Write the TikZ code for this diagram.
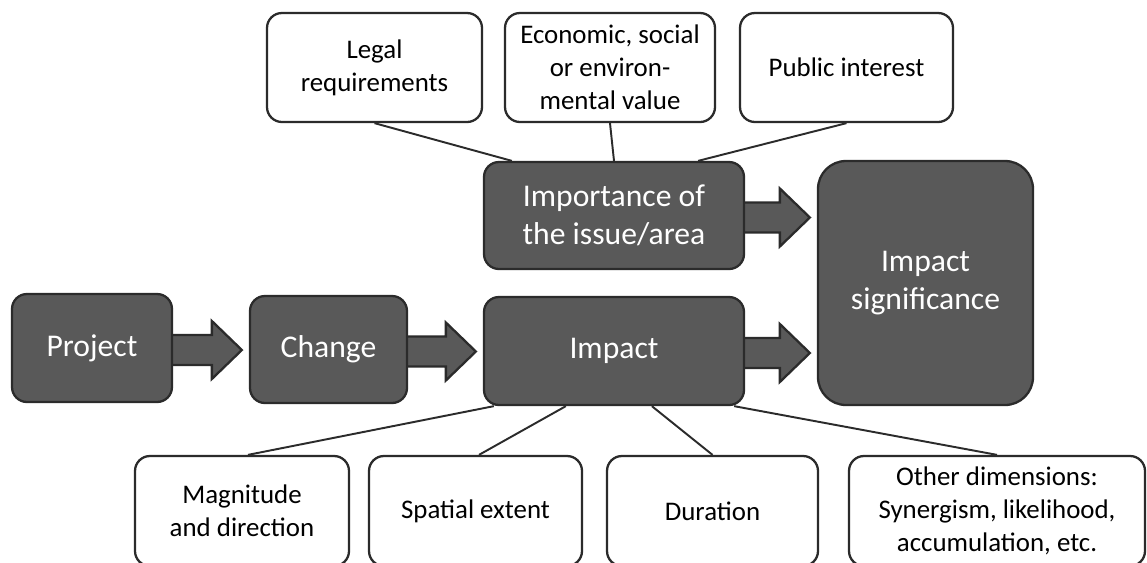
\documentclass[tikz,border=0pt]{standalone}
\usepackage{fontspec}
\setmainfont{Carlito}
\usetikzlibrary{calc,backgrounds}
\definecolor{boxfill}{HTML}{595959}
\definecolor{edge}{HTML}{2B2B2B}
% block arrow from the east side of #1 to the west side of #2
\newcommand\fatarrow[2]{%
  \draw[bigarrow] let \p1=(#1.east), \p2=(#2.west) in
    (\x1-0.1cm,\y1-0.04cm+0.3cm) -- (\x2-0.74cm,\y1-0.04cm+0.3cm)
    -- (\x2-0.74cm,\y1-0.04cm+0.58cm) -- (\x2-0.14cm,\y1-0.04cm)
    -- (\x2-0.74cm,\y1-0.04cm-0.58cm) -- (\x2-0.74cm,\y1-0.04cm-0.3cm)
    -- (\x1-0.1cm,\y1-0.04cm-0.3cm) -- cycle;}
\begin{document}
\begin{tikzpicture}[x=0.02cm,y=-0.02cm,
  base/.style={draw=edge, line width=1.3pt, rounded corners=0.3cm,
    align=center, inner sep=0pt},
  sz/.style 2 args={minimum width=#1*0.02cm, minimum height=#2*0.02cm},
  darkbox/.style={base, fill=boxfill, text=white,
    font=\fontsize{18}{21.5}\selectfont},
  lightbox/.style={base, fill=white, text=black,
    font=\fontsize{15.3}{18.8}\selectfont},
  link/.style={draw=edge, line width=1.1pt},
  bigarrow/.style={fill=boxfill, draw=edge, line width=1.3pt, line join=miter}]
\useasboundingbox (0,0) rectangle (1147,562);
\clip (0,0) rectangle (1147,562);

% top row: what makes an issue important
\node[lightbox, sz={215}{109}] (legal) at (374.5,67.5) {Legal\\requirements};
\node[lightbox, sz={210}{109}] (econ) at (610,67.5) {Economic, social\\or environ-\\mental value};
\node[lightbox, sz={213}{109}] (public) at (846.5,67.5) {Public interest};

% main chain
\node[darkbox, sz={260}{107}] (import) at (614,215.5) {Importance of\\the issue/area};
\node[darkbox, sz={215}{244}, rounded corners=0.56cm] (signif) at (925.5,283) {Impact\\significance};
\node[darkbox, sz={160}{108}] (project) at (92,348) {Project};
\node[darkbox, sz={157}{107}] (change) at (328.5,349.5) {Change};
\node[darkbox, sz={260}{108}] (impact) at (614,351) {Impact};

% bottom row: dimensions of an impact
\node[lightbox, sz={214}{110}] (magn) at (242,511) {Magnitude\\and direction};
\node[lightbox, sz={213}{110}] (spatial) at (475.5,511) {Spatial extent};
\node[lightbox, sz={211}{110}] (durat) at (712.5,511) {Duration};
\node[lightbox, sz={296}{110}] (other) at (997,511) {Other dimensions:\\Synergism, likelihood,\\accumulation, etc.};

\begin{scope}[on background layer]
  % connectors to the importance box
  \draw[link] (legal.south) -- ($(import.north west)+(29,0)$);
  \draw[link] (econ.south) -- (import.north);
  \draw[link] (public.south) -- ($(import.north east)+(-47,0)$);
  % connectors from the impact box
  \draw[link] ($(impact.south west)+(11,0)$) -- ($(magn.north)+(6,0)$);
  \draw[link] ($(impact.south west)+(83,0)$) -- ($(spatial.north)+(3.5,0)$);
  \draw[link] ($(impact.south west)+(169,0)$) -- (durat.north);
  \draw[link] ($(impact.south east)+(-11,0)$) -- (other.north);
  % block arrows
  \fatarrow{project}{change}
  \fatarrow{change}{impact}
  \fatarrow{import}{signif}
  \fatarrow{impact}{signif}
\end{scope}
\end{tikzpicture}
\end{document}
